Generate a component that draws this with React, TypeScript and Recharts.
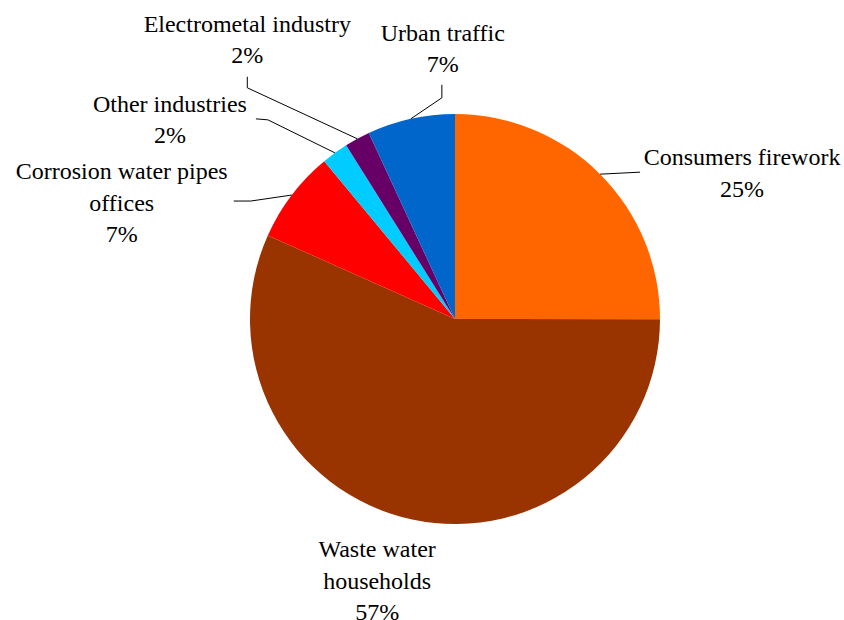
import { PieChart, Pie, Cell } from 'recharts';

const sources = [
  'Consumers firework',
  'Waste water households',
  'Corrosion water pipes offices',
  'Other industries',
  'Electrometal industry',
  'Urban traffic',
];
const shares = [25.0, 56.6, 7.3, 2.1, 2.0, 6.9];
const labelLines = [
  ['Consumers firework'],
  ['Waste water', 'households'],
  ['Corrosion water pipes', 'offices'],
  ['Other industries'],
  ['Electrometal industry'],
  ['Urban traffic'],
];

const COLORS = ['#FF6600', '#993300', '#FF0000', '#00CCFF', '#660066', '#0066CC'];

// label placement relative to the slice's outer mid point
// tx: text centre offset, ty: first baseline offset, path: leader line points
const LAYOUT = [
  { tx: 142, ty: -9, path: [[40, -2]] },
  { tx: -35, ty: 38, path: [] },
  { tx: -170, ty: -16, path: [[-41, 6], [-58, 6]] },
  { tx: -165, ty: -41, path: [[-67, -33], [-79, -34]] },
  { tx: -110, ty: -107, path: [[-110, -51], [-110, -62]] },
  { tx: 32, ty: -78, path: [[31, -21], [31, -34]] },
];

const data = sources.map((name, i) => ({ name, value: shares[i] }));

const RADIAN = Math.PI / 180;
const LINE_H = 31.5;

const renderLabel = (props: any) => {
  const { cx, cy, midAngle, outerRadius, percent, index } = props;
  const px = cx + outerRadius * Math.cos(-midAngle * RADIAN);
  const py = cy + outerRadius * Math.sin(-midAngle * RADIAN);
  const lay = LAYOUT[index];
  const lines = [...labelLines[index], `${Math.round(percent * 100)}%`];
  const pts = [[px, py], ...lay.path.map(([dx, dy]) => [px + dx, py + dy])];
  return (
    <g key={`lbl-${index}`}>
      {pts.length > 1 && (
        <polyline
          points={pts.map((p) => p.join(',')).join(' ')}
          fill="none"
          stroke="#000"
          strokeWidth={1}
        />
      )}
      <text
        x={px + lay.tx}
        y={py + lay.ty}
        textAnchor="middle"
        fontFamily="Liberation Serif"
        fontSize={24}
        fill="#000"
      >
        {lines.map((l, i) => (
          <tspan key={i} x={px + lay.tx} dy={i === 0 ? 0 : LINE_H}>
            {l}
          </tspan>
        ))}
      </text>
    </g>
  );
};

export default function App() {
  return (
    <div style={{ position: 'absolute', left: 0, top: 0, width: 844, height: 620, background: '#fff' }}>
      <PieChart width={844} height={620} margin={{ top: 0, right: 0, bottom: 0, left: 0 }}>
        <Pie
          data={data}
          dataKey="value"
          nameKey="name"
          cx={455}
          cy={319}
          outerRadius={205}
          startAngle={90}
          endAngle={-270}
          stroke="none"
          label={renderLabel}
          labelLine={false}
          isAnimationActive={false}
        >
          {data.map((d, i) => (
            <Cell key={d.name} fill={COLORS[i]} />
          ))}
        </Pie>
      </PieChart>
    </div>
  );
}
